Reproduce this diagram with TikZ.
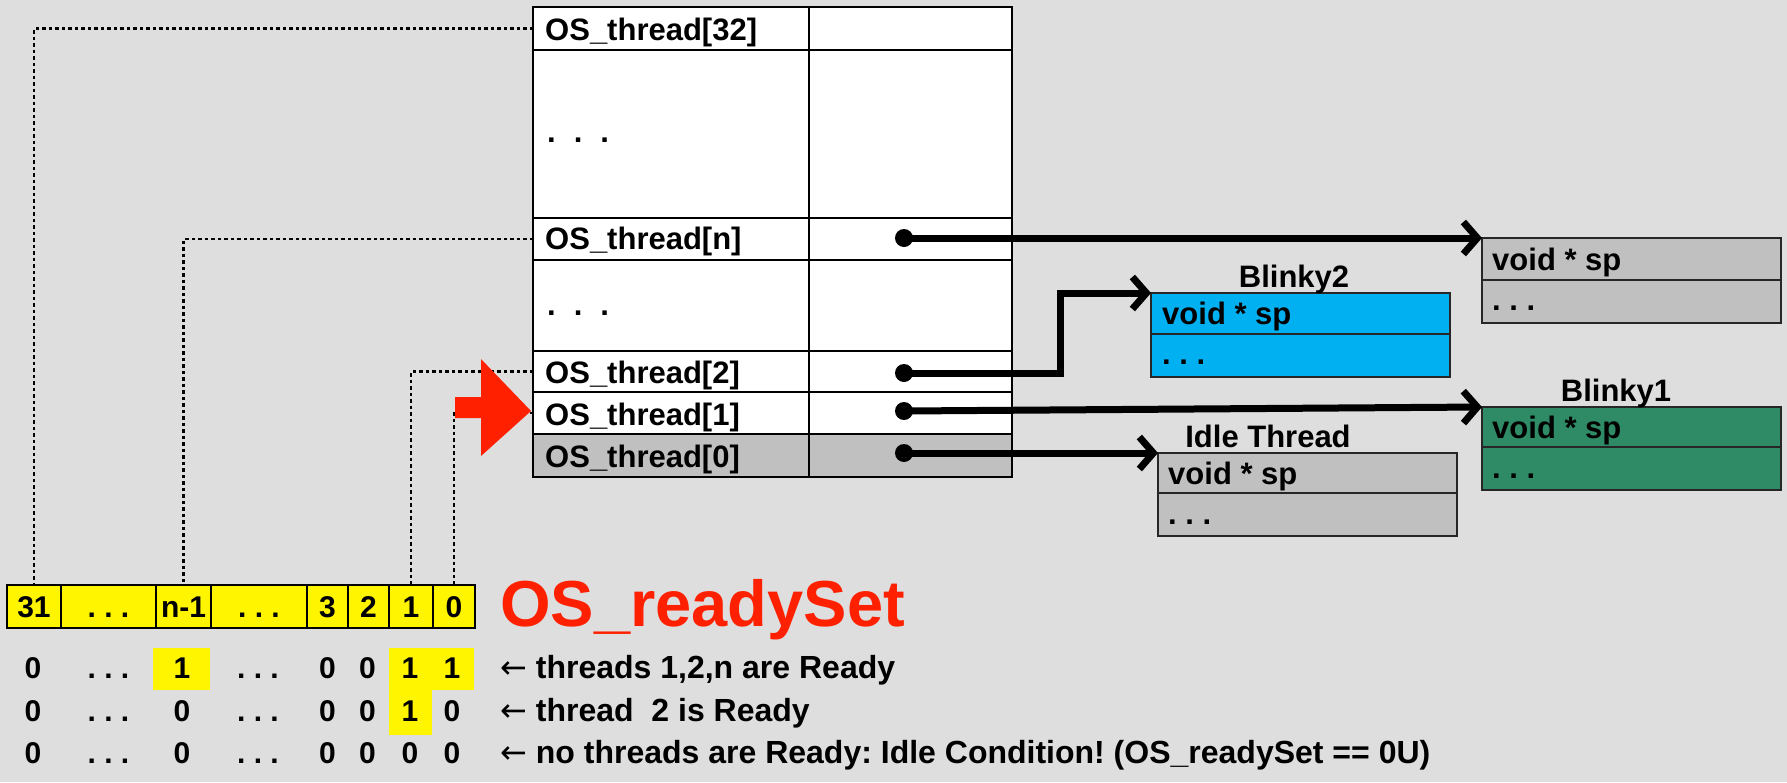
\documentclass[tikz,border=0pt]{standalone}
\usepackage{fontspec}
\setmainfont{Liberation Sans}
\newfontfamily\arrowfont{DejaVu Sans}
\usetikzlibrary{arrows.meta}
\definecolor{bg}{RGB}{222,222,222}
\definecolor{boxgray}{RGB}{192,192,192}
\definecolor{cyanbox}{RGB}{0,176,240}
\definecolor{greenbox}{RGB}{46,139,102}
\definecolor{bityellow}{RGB}{255,245,0}
\definecolor{alertred}{RGB}{255,32,0}
\newcommand\myfs[1]{\fontsize{#1}{#1}\selectfont}
\newcommand\larr{{\arrowfont\mdseries ←}}
\frenchspacing
\begin{document}
\begin{tikzpicture}[x=1pt,y=-1pt,
  tcell/.style={draw=black, line width=2.8pt, fill=white, anchor=north west, inner sep=0pt, outer sep=0pt},
  ttxt/.style={anchor=base west, inner sep=0pt, font=\myfs{31}\bfseries},
  bcell/.style={draw=black, line width=2.6pt, fill=bityellow, anchor=north west, inner sep=0pt, outer sep=0pt, minimum height=43pt},
  btxt/.style={anchor=base, inner sep=0pt, font=\myfs{30}\bfseries},
  rtxt/.style={anchor=base west, inner sep=0pt, font=\myfs{32}\bfseries},
  hl/.style={fill=bityellow, draw=none, anchor=north west, inner sep=0pt, outer sep=0pt},
  sbox/.style={draw=black!85, line width=2.6pt, anchor=north west, inner sep=0pt, outer sep=0pt, minimum width=299pt},
  dotn/.style={circle, fill=black, inner sep=0pt, minimum size=18pt},
  ptr/.style={line width=7pt, -{Straight Barb[length=14pt,width=32pt]}},
  dotl/.style={line width=2.6pt, dash pattern=on 3.5pt off 3pt},
  lbl/.style={anchor=base, inner sep=0pt, font=\myfs{31}\bfseries}
]
\useasboundingbox (0,0) rectangle (1787,782);
\fill[bg] (0,0) rectangle (1787,782);

% ---- table of OS_thread ----
\node[tcell, minimum width=276pt, minimum height=43pt] (r32) at (533,7) {};
\node[tcell, minimum width=203pt, minimum height=43pt] (q32) at (809,7) {};
\node[tcell, minimum width=276pt, minimum height=168pt] (rd1) at (533,50) {};
\node[tcell, minimum width=203pt, minimum height=168pt] (qd1) at (809,50) {};
\node[tcell, minimum width=276pt, minimum height=42pt] (rn) at (533,218) {};
\node[tcell, minimum width=203pt, minimum height=42pt] (qn) at (809,218) {};
\node[tcell, minimum width=276pt, minimum height=91pt] (rd2) at (533,260) {};
\node[tcell, minimum width=203pt, minimum height=91pt] (qd2) at (809,260) {};
\node[tcell, minimum width=276pt, minimum height=41pt] (r2) at (533,351) {};
\node[tcell, minimum width=203pt, minimum height=41pt] (q2) at (809,351) {};
\node[tcell, minimum width=276pt, minimum height=42pt] (r1) at (533,392) {};
\node[tcell, minimum width=203pt, minimum height=42pt] (q1) at (809,392) {};
\node[tcell, fill=boxgray, minimum width=276pt, minimum height=43pt] (r0) at (533,434) {};
\node[tcell, fill=boxgray, minimum width=203pt, minimum height=43pt] (q0) at (809,434) {};

\node[ttxt] (t32) at (545,40) {OS\_thread[32]};
\node[ttxt] (td1) at (547,142) {.\kern18pt.\kern18pt.};
\node[ttxt] (tn) at (545,249) {OS\_thread[n]};
\node[ttxt] (td2) at (547,315) {.\kern18pt.\kern18pt.};
\node[ttxt] (t2) at (545,383) {OS\_thread[2]};
\node[ttxt] (t1) at (545,425) {OS\_thread[1]};
\node[ttxt] (t0) at (545,467) {OS\_thread[0]};

% ---- bit array ----
\node[bcell, minimum width=54pt] (b31) at (7,585) {};
\node[bcell, minimum width=95pt] (bda) at (61,585) {};
\node[bcell, minimum width=55pt] (bn) at (156,585) {};
\node[bcell, minimum width=96pt] (bdb) at (211,585) {};
\node[bcell, minimum width=41pt] (b3) at (307,585) {};
\node[bcell, minimum width=41pt] (b2) at (348,585) {};
\node[bcell, minimum width=44pt] (b1) at (389,585) {};
\node[bcell, minimum width=42pt] (b0) at (433,585) {};

\node[btxt] (l31) at (34,617) {31};
\node[btxt] (lda) at (108.5,617) {. . .};
\node[btxt] (ln) at (183.5,617) {n-1};
\node[btxt] (ldb) at (259,617) {. . .};
\node[btxt] (l3) at (327.5,617) {3};
\node[btxt] (l2) at (368.5,617) {2};
\node[btxt] (l1) at (411,617) {1};
\node[btxt] (l0) at (454,617) {0};

\node[anchor=base west, inner sep=0pt, text=alertred, font=\myfs{65}\bfseries] (rs) at (500,626) {OS\_readySet};

% ---- highlights ----
\node[hl, minimum width=57pt, minimum height=42pt] (h1) at (153,648) {};
\node[hl, minimum width=85pt, minimum height=42pt] (h2) at (389,648) {};
\node[hl, minimum width=43pt, minimum height=45pt] (h3) at (389,690) {};

% ---- value rows ----
\node[btxt] (a1) at (33,678) {0};
\node[btxt] (a2) at (108.5,678) {. . .};
\node[btxt] (a3) at (182,678) {1};
\node[btxt] (a4) at (258,678) {. . .};
\node[btxt] (a5) at (327.5,678) {0};
\node[btxt] (a6) at (367.5,678) {0};
\node[btxt] (a7) at (410,678) {1};
\node[btxt] (a8) at (452,678) {1};

\node[btxt] (c1) at (33,721) {0};
\node[btxt] (c2) at (108.5,721) {. . .};
\node[btxt] (c3) at (182,721) {0};
\node[btxt] (c4) at (258,721) {. . .};
\node[btxt] (c5) at (327.5,721) {0};
\node[btxt] (c6) at (367.5,721) {0};
\node[btxt] (c7) at (410,721) {1};
\node[btxt] (c8) at (452,721) {0};

\node[btxt] (e1) at (33,763) {0};
\node[btxt] (e2) at (108.5,763) {. . .};
\node[btxt] (e3) at (182,763) {0};
\node[btxt] (e4) at (258,763) {. . .};
\node[btxt] (e5) at (327.5,763) {0};
\node[btxt] (e6) at (367.5,763) {0};
\node[btxt] (e7) at (410,763) {0};
\node[btxt] (e8) at (452,763) {0};

\node[rtxt] (x1) at (500,678) {\larr\ threads 1,2,n are Ready};
\node[rtxt] (x2) at (500,721) {\larr\ thread\ \ 2 is Ready};
\node[rtxt] (x3) at (500,763) {\larr\ no threads are Ready: Idle Condition! (OS\_readySet == 0U)};

% ---- dotted links ----
\draw[dotl] (r32.west) -| (b31.north);
\draw[dotl] (rn.west) -| (bn.north);
\draw[dotl] (r2.west) -| (b1.north);
\draw[dotl] (r1.west) -| (b0.north);

% ---- red arrow ----
\fill[alertred] (455,397) -- (481,397) -- (481,359) -- (531,411) -- (481,456) -- (481,418) -- (455,418) -- cycle;

% ---- thread boxes ----
\node[sbox, fill=boxgray, minimum height=42pt] (nb) at (1482,238) {};
\node[sbox, fill=boxgray, minimum height=43pt] (nbb) at (1482,280) {};
\node[ttxt] (nbt) at (1492,270) {void * sp};
\node[ttxt] (nbd) at (1492,310) {. . .};

\node[sbox, fill=cyanbox, minimum height=41pt] (bk2) at (1151,293) {};
\node[sbox, fill=cyanbox, minimum height=43pt] (bk2b) at (1151,334) {};
\node[ttxt] (bk2t) at (1162,324) {void * sp};
\node[ttxt] (bk2d) at (1162,364) {. . .};
\node[lbl] (bk2l) at (1294,287) {Blinky2};

\node[sbox, fill=greenbox, minimum height=40pt] (bk1) at (1482,407) {};
\node[sbox, fill=greenbox, minimum height=43pt] (bk1b) at (1482,447) {};
\node[ttxt] (bk1t) at (1492,438) {void * sp};
\node[ttxt] (bk1d) at (1492,478) {. . .};
\node[lbl] (bk1l) at (1616,401) {Blinky1};

\node[sbox, fill=boxgray, minimum height=40pt] (id) at (1158,453) {};
\node[sbox, fill=boxgray, minimum height=43pt] (idb) at (1158,493) {};
\node[ttxt] (idt) at (1168,484) {void * sp};
\node[ttxt] (idd) at (1168,524) {. . .};
\node[lbl] (idl) at (1268,447) {Idle Thread};

% ---- pointers ----
\node[dotn] (dn) at (904,238) {};
\node[dotn] (d2) at (904,373) {};
\node[dotn] (d1) at (904,411) {};
\node[dotn] (d0) at (904,453) {};

\draw[ptr] (dn.center) -- (nb.north west);
\draw[ptr] (d2.center) -- (1060,373) |- (bk2.north west);
\draw[ptr] (d1.center) -- (bk1.north west);
\draw[ptr] (d0.center) -- (id.north west);
\end{tikzpicture}
\end{document}
